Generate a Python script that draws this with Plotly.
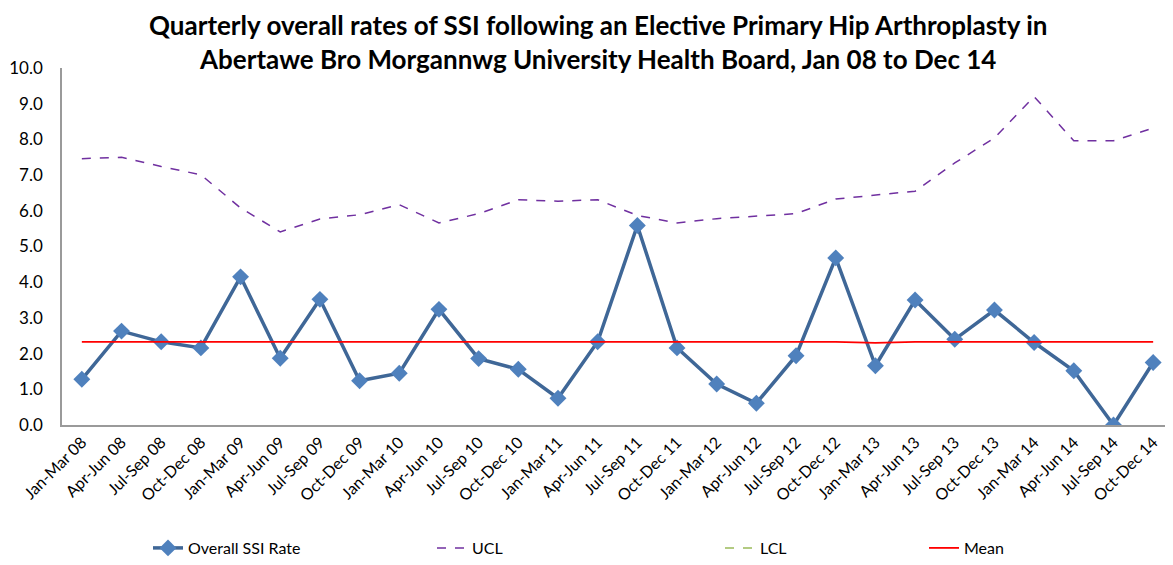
import plotly.graph_objects as go

quarters = ["Jan-Mar 08", "Apr-Jun 08", "Jul-Sep 08", "Oct-Dec 08",
            "Jan-Mar 09", "Apr-Jun 09", "Jul-Sep 09", "Oct-Dec 09",
            "Jan-Mar 10", "Apr-Jun 10", "Jul-Sep 10", "Oct-Dec 10",
            "Jan-Mar 11", "Apr-Jun 11", "Jul-Sep 11", "Oct-Dec 11",
            "Jan-Mar 12", "Apr-Jun 12", "Jul-Sep 12", "Oct-Dec 12",
            "Jan-Mar 13", "Apr-Jun 13", "Jul-Sep 13", "Oct-Dec 13",
            "Jan-Mar 14", "Apr-Jun 14", "Jul-Sep 14", "Oct-Dec 14"]

ssi_rate = [1.28, 2.63, 2.33, 2.16, 4.15, 1.87, 3.52, 1.24,
            1.45, 3.24, 1.86, 1.56, 0.75, 2.33, 5.59, 2.16,
            1.15, 0.61, 1.94, 4.68, 1.66, 3.50, 2.40, 3.22,
            2.31, 1.52, 0.0, 1.75]

ucl = [7.46, 7.50, 7.24, 7.01, 6.08, 5.41, 5.77, 5.89,
       6.17, 5.66, 5.92, 6.31, 6.27, 6.31, 5.87, 5.66,
       5.78, 5.85, 5.92, 6.33, 6.43, 6.55, 7.34, 8.04,
       9.20, 7.96, 7.96, 8.32]

lcl = [None] * 28

mean = [2.33, 2.33, 2.33, 2.33, 2.33, 2.33, 2.33, 2.33,
        2.33, 2.33, 2.33, 2.33, 2.33, 2.33, 2.33, 2.33,
        2.33, 2.33, 2.33, 2.33, 2.30, 2.33, 2.33, 2.33,
        2.33, 2.33, 2.33, 2.33]

title_text = ("<b>Quarterly overall rates of SSI following an Elective Primary Hip Arthroplasty in<br>"
              "Abertawe Bro Morgannwg University Health Board, Jan 08 to Dec 14</b>")

FONT = "Lato, Open Sans, sans-serif"

# page body has an 8px margin, so the figure is drawn 8px in from the window edge
OFF = 8
PLOT_L, PLOT_W, PLOT_H = 62 - OFF, 1111, 358

fig = go.Figure()
fig.add_trace(go.Scatter(x=quarters, y=ssi_rate, name="Overall SSI Rate",
                         mode="lines+markers", legend="legend",
                         line=dict(color="#3F6797", width=3.5),
                         marker=dict(symbol="diamond", size=13, color="#4F81BD")))
fig.add_trace(go.Scatter(x=quarters, y=ucl, name="UCL", mode="lines", legend="legend2",
                         line=dict(color="#7030A0", width=1.5, dash="dash")))
fig.add_trace(go.Scatter(x=quarters, y=lcl, name="LCL", mode="lines", legend="legend3",
                         line=dict(color="#9BBB59", width=1.5, dash="dash")))
fig.add_trace(go.Scatter(x=quarters, y=mean, name="Mean", mode="lines", legend="legend4",
                         line=dict(color="#FF0000", width=1.8)))

leg_common = dict(orientation="h", y=-0.345, yanchor="middle", xanchor="left",
                  bgcolor="rgba(0,0,0,0)", font=dict(family=FONT, size=16))
fig.update_layout(
    width=1173 - OFF, height=565 - OFF,
    margin=dict(l=PLOT_L, r=0, t=68 - OFF, b=565 - OFF - (68 - OFF) - PLOT_H),
    paper_bgcolor="white", plot_bgcolor="white",
    font=dict(family=FONT, color="black", size=16),
    showlegend=True,
    legend=dict(x=(148 - 62) / PLOT_W, **leg_common),
    legend2=dict(x=(432 - 62) / PLOT_W, **leg_common),
    legend3=dict(x=(720 - 62) / PLOT_W, **leg_common),
    legend4=dict(x=(924 - 62) / PLOT_W, **leg_common),
    annotations=[dict(text=title_text, xref="paper", yref="paper",
                      x=(598 - 62) / PLOT_W, y=1 + 26 / PLOT_H, xanchor="center", yanchor="middle",
                      showarrow=False, align="center",
                      font=dict(family=FONT, size=26, color="black"))],
)
fig.update_xaxes(type="category", range=[-0.5, 27.5], showgrid=False,
                 showline=True, linecolor="#9A9A9A", linewidth=1.5,
                 tickangle=-45, tickfont=dict(size=16), ticks="")
fig.update_yaxes(range=[0, 10], dtick=1, tickformat=".1f", showgrid=False,
                 showline=True, linecolor="#9A9A9A", linewidth=1.5,
                 tickfont=dict(size=17), ticks="", zeroline=False,
                 ticklabelstandoff=14)

fig.write_html("out.html")
